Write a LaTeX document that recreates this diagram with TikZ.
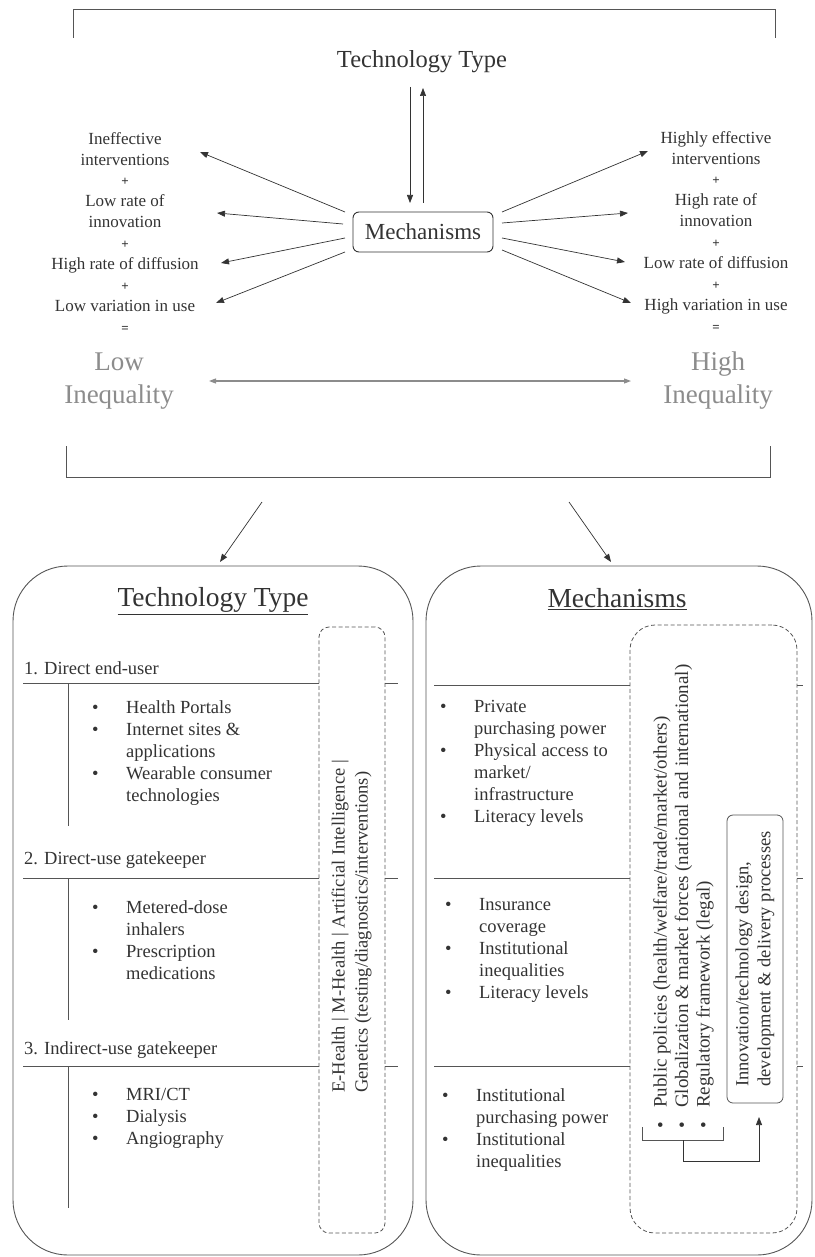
\documentclass[tikz,border=0pt]{standalone}
\usepackage{fontspec}
\setmainfont{Liberation Serif}
\usetikzlibrary{arrows.meta,calc}
\definecolor{ink}{HTML}{333333}
\definecolor{rule}{HTML}{555555}
\definecolor{soft}{HTML}{8C8C8C}
\newcommand\bulletmark{\makebox[34pt][l]{\textbullet}}
\newcommand\bulletgap{\hspace*{34pt}}
\newcommand\sidemark{\makebox[21pt][l]{\textbullet}}
\newcommand\plusmark{{\fontsize{13}{20.9}\selectfont\bfseries +}}
\newcommand\equalmark{{\fontsize{13}{20.9}\selectfont\bfseries =}}

\begin{document}
\begin{tikzpicture}[x=1pt,y=-1pt,
  every node/.style={inner sep=0pt, text=ink},
  frame/.style={draw=rule, line width=0.8pt},
  arr/.style={draw=ink, line width=0.7pt, -{Triangle[length=8pt,width=6pt]}},
  grayarr/.style={draw=soft, line width=1.1pt,
    {Triangle[length=7pt,width=5pt]}-{Triangle[length=7pt,width=5pt]}},
  listtxt/.style={font=\fontsize{17}{20.9}\selectfont, align=center, anchor=north},
  ineq/.style={font=\fontsize{27}{33}\selectfont, text=soft, align=center},
  bigbox/.style={draw=rule, line width=0.9pt, rounded corners=55pt},
  dashbox/.style={draw=rule, line width=0.8pt, dash pattern=on 4pt off 2.5pt},
  body/.style={font=\fontsize{18.5}{22}\selectfont, align=left, anchor=north west},
  head/.style={font=\fontsize{18.5}{22}\selectfont, anchor=west},
  title/.style={font=\fontsize{27.5}{32}\selectfont},
  side/.style={rotate=90, anchor=west, align=left}
]
\useasboundingbox (0,0) rectangle (814,1257);
\clip (0,0) rectangle (814,1257);

% ---------- upper panel ----------
\draw[frame] (73,38) |- (775,9) -- (775,38);
\node[font=\fontsize{24.5}{28}\selectfont] (toptype) at (422,62) {Technology Type};
\node[draw=ink, line width=0.9pt, rounded corners=6pt, minimum width=140pt,
      minimum height=40pt, font=\fontsize{23}{26}\selectfont] (mech) at (423,232) {Mechanisms};

\coordinate (downtop) at (410,87);  \coordinate (downtip) at (410,203);
\coordinate (upbase) at (423,203);  \coordinate (uptip) at (423,88);
\draw[arr] (downtop) -- (downtip);
\draw[arr] (upbase) -- (uptip);

\node[listtxt] (lowlist) at (125,132) {Ineffective\\interventions\\\plusmark\\Low rate of\\innovation\\\plusmark\\High rate of diffusion\\\plusmark\\Low variation in use\\\equalmark};
\node[listtxt] (highlist) at (716,131) {Highly effective\\interventions\\\plusmark\\High rate of\\innovation\\\plusmark\\Low rate of diffusion\\\plusmark\\High variation in use\\\equalmark};

% spokes out of the mechanisms box
\coordinate (ls1) at (345,212); \coordinate (le1) at (200,152);
\coordinate (ls2) at (343,224); \coordinate (le2) at (217,213);
\coordinate (ls3) at (345,238); \coordinate (le3) at (221,263);
\coordinate (ls4) at (345,252); \coordinate (le4) at (216,303);
\coordinate (rs1) at (502,212); \coordinate (re1) at (648,151);
\coordinate (rs2) at (502,223); \coordinate (re2) at (628,213);
\coordinate (rs3) at (502,238); \coordinate (re3) at (625,262);
\coordinate (rs4) at (502,250); \coordinate (re4) at (631,303);
\foreach \i in {1,...,4}{
  \draw[arr] (ls\i) -- (le\i);
  \draw[arr] (rs\i) -- (re\i);
}

\node[ineq] (lowineq) at (119,381) {Low\\Inequality};
\node[ineq] (highineq) at (718,381) {High\\Inequality};
\coordinate (ineqL) at (209,381); \coordinate (ineqR) at (631,381);
\draw[grayarr] (ineqL) -- (ineqR);

\draw[frame] (66,446) |- (770,477) -- (770,446);
\coordinate (splitL) at (262,502); \coordinate (tipL) at (220,562);
\coordinate (splitR) at (569,502); \coordinate (tipR) at (611,562);
\draw[arr] (splitL) -- (tipL);
\draw[arr] (splitR) -- (tipR);

% ---------- technology type panel ----------
\draw[bigbox] (13,566) rectangle (413,1255);
\node[title] (techtitle) at (213,601) {\underline{Technology Type}};
\node[dashbox, rounded corners=10pt, minimum width=66pt, minimum height=606pt] (techband) at (352,930) {};

\foreach \y/\t in {683/826, 878/1020, 1066/1208}{
  \draw[frame] (23,\y) -- (319,\y);
  \draw[frame] (385,\y) -- (398,\y);
  \draw[frame] (68,\y) -- (68,\t);
}
\node[head] (tech1) at (24,668) {1. Direct end-user};
\node[head] (tech2) at (24,860) {2. Direct-use gatekeeper};
\node[head] (tech3) at (24,1050) {3. Indirect-use gatekeeper};

\node[body] (techitems1) at (92,700) {\bulletmark Health Portals\\\bulletmark Internet sites \&\\\bulletgap applications\\\bulletmark Wearable consumer\\\bulletgap technologies};
\node[body] (techitems2) at (92,900) {\bulletmark Metered-dose\\\bulletgap inhalers\\\bulletmark Prescription\\\bulletgap medications};
\node[body] (techitems3) at (92,1088) {\bulletmark MRI/CT\\\bulletmark Dialysis\\\bulletmark Angiography};

\node[side, font=\fontsize{18.5}{23}\selectfont] (techside) at (351.5,1093)
  {E-Health | M-Health | Artificial Intelligence |\\Genetics (testing/diagnostics/interventions)};

% ---------- mechanisms panel ----------
\draw[bigbox] (426,566) rectangle (812,1255);
\node[title] (mechtitle) at (617,599) {\underline{Mechanisms}};
\node[dashbox, rounded corners=25pt, minimum width=167pt, minimum height=608pt] (mechband) at (713.5,929) {};

\foreach \y in {685, 878, 1066}{
  \draw[frame] (434,\y) -- (630,\y);
  \draw[frame] (797,\y) -- (803,\y);
}

\node[body] (mechitems1) at (440,700) {\bulletmark Private\\\bulletgap purchasing power\\\bulletmark Physical access to\\\bulletgap market/\\\bulletgap infrastructure\\\bulletmark Literacy levels};
\node[body] (mechitems2) at (445,898) {\bulletmark Insurance\\\bulletgap coverage\\\bulletmark Institutional\\\bulletgap inequalities\\\bulletmark Literacy levels};
\node[body] (mechitems3) at (442,1088) {\bulletmark Institutional\\\bulletgap purchasing power\\\bulletmark Institutional\\\bulletgap inequalities};

\node[side, font=\fontsize{19}{21.5}\selectfont] (policies) at (683.5,1129)
  {\sidemark Public policies (health/welfare/trade/market/others)\\\sidemark Globalization \& market forces (national and international)\\\sidemark Regulatory framework (legal)};

\node[draw=rule, line width=0.8pt, rounded corners=6pt, rotate=90, minimum width=288pt,
      minimum height=56pt, align=left, font=\fontsize{18.5}{22}\selectfont] (innov) at (755,959)
  {Innovation/technology design,\\development \& delivery processes};

\coordinate (brL) at (642,1127); \coordinate (brR) at (723,1127);
\coordinate (brM) at (683,1140); \coordinate (brC) at (759,1161);
\coordinate (innovin) at (759,1117);
\draw[frame] (brL) |- (brR |- brM) -- (brR);
\draw[arr] (brM) |- (brC) -- (innovin);
\end{tikzpicture}
\end{document}
